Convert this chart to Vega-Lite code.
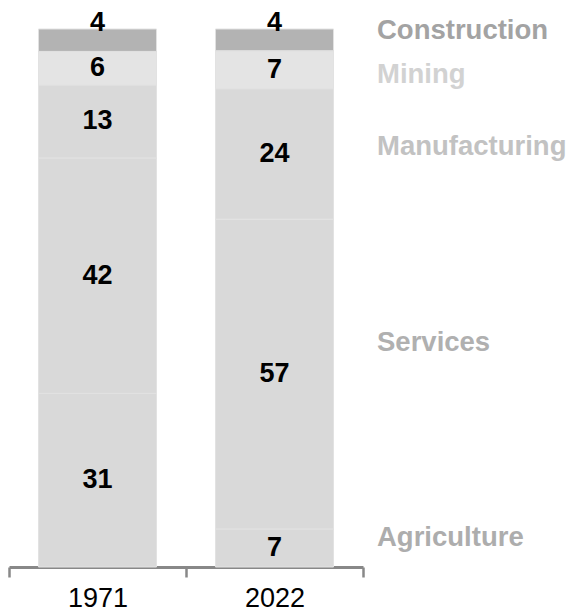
{
  "$schema": "https://vega.github.io/schema/vega-lite/v6.json",
  "width": 354,
  "height": 538,
  "autosize": "none",
  "padding": {"left": 9, "top": 29, "right": 205, "bottom": 49},
  "background": "white",
  "config": {
    "view": {"stroke": null},
    "font": "Liberation Sans",
    "axis": {"grid": false}
  },
  "datasets": {
    "shares": [
      {"year": "1971", "sector": "Agriculture", "idx": 1, "share": 31},
      {"year": "1971", "sector": "Services", "idx": 2, "share": 42},
      {"year": "1971", "sector": "Manufacturing", "idx": 3, "share": 13},
      {"year": "1971", "sector": "Mining", "idx": 4, "share": 6},
      {"year": "1971", "sector": "Construction", "idx": 5, "share": 4},
      {"year": "2022", "sector": "Agriculture", "idx": 1, "share": 7},
      {"year": "2022", "sector": "Services", "idx": 2, "share": 57},
      {"year": "2022", "sector": "Manufacturing", "idx": 3, "share": 24},
      {"year": "2022", "sector": "Mining", "idx": 4, "share": 7},
      {"year": "2022", "sector": "Construction", "idx": 5, "share": 4}
    ],
    "labels": [
      {"year": "2022", "sector": "Construction", "pos": 0.996},
      {"year": "2022", "sector": "Mining", "pos": 0.914},
      {"year": "2022", "sector": "Manufacturing", "pos": 0.781},
      {"year": "2022", "sector": "Services", "pos": 0.416},
      {"year": "2022", "sector": "Agriculture", "pos": 0.054}
    ]
  },
  "layer": [
    {
      "data": {"name": "shares"},
      "mark": {"type": "bar", "width": {"band": 0.667}, "stroke": "#e2e2e2", "strokeWidth": 1},
      "encoding": {
        "x": {
          "field": "year", "type": "nominal",
          "scale": {"paddingInner": 0, "paddingOuter": 0},
          "axis": {
            "title": null, "labelAngle": 0, "domainColor": "#888888", "domainWidth": 3,
            "tickColor": "#888888", "tickWidth": 2.5, "tickSize": 10, "tickBand": "extent",
            "labelFont": "Liberation Sans", "labelFontSize": 27, "labelColor": "#000000",
            "labelPadding": 8
          }
        },
        "y": {"field": "share", "type": "quantitative", "stack": "normalize", "scale": {"domain": [0, 1]}, "axis": null},
        "color": {
          "field": "sector", "type": "nominal", "legend": null,
          "scale": {
            "domain": ["Agriculture", "Services", "Manufacturing", "Mining", "Construction"],
            "range": ["#d9d9d9", "#d9d9d9", "#d9d9d9", "#e4e4e4", "#b3b3b3"]
          }
        },
        "order": {"field": "idx", "type": "quantitative"}
      }
    },
    {
      "data": {"name": "shares"},
      "mark": {"type": "text", "baseline": "middle", "align": "center", "fontWeight": "bold", "fontSize": 27, "color": "#000000"},
      "encoding": {
        "x": {"field": "year", "type": "nominal"},
        "y": {"field": "share", "type": "quantitative", "stack": "normalize", "bandPosition": 0.5},
        "detail": {"field": "sector"},
        "order": {"field": "idx", "type": "quantitative"},
        "text": {"condition": {"test": "datum.sector === 'Construction'", "value": ""}, "field": "share", "type": "quantitative"}
      }
    },
    {
      "data": {"name": "shares"},
      "mark": {"type": "text", "baseline": "alphabetic", "align": "center", "fontWeight": "bold", "fontSize": 27, "color": "#000000", "dy": 2},
      "encoding": {
        "x": {"field": "year", "type": "nominal"},
        "y": {"field": "share", "type": "quantitative", "stack": "normalize", "bandPosition": 1},
        "detail": {"field": "sector"},
        "order": {"field": "idx", "type": "quantitative"},
        "text": {"condition": {"test": "datum.sector !== 'Construction'", "value": ""}, "field": "share", "type": "quantitative"}
      }
    },
    {
      "data": {"name": "labels"},
      "mark": {"type": "text", "baseline": "middle", "align": "left", "fontWeight": "bold", "fontSize": 27.5, "dx": 14},
      "encoding": {
        "x": {"field": "year", "type": "nominal", "bandPosition": 1},
        "y": {"field": "pos", "type": "quantitative"},
        "text": {"field": "sector"},
        "color": {
          "field": "sector", "type": "nominal", "legend": null,
          "scale": {
            "domain": ["Construction", "Mining", "Manufacturing", "Services", "Agriculture"],
            "range": ["#a3a3a3", "#d2d2d2", "#c2c2c2", "#b0b0b0", "#adadad"]
          }
        }
      }
    }
  ],
  "resolve": {"scale": {"color": "independent"}}
}
